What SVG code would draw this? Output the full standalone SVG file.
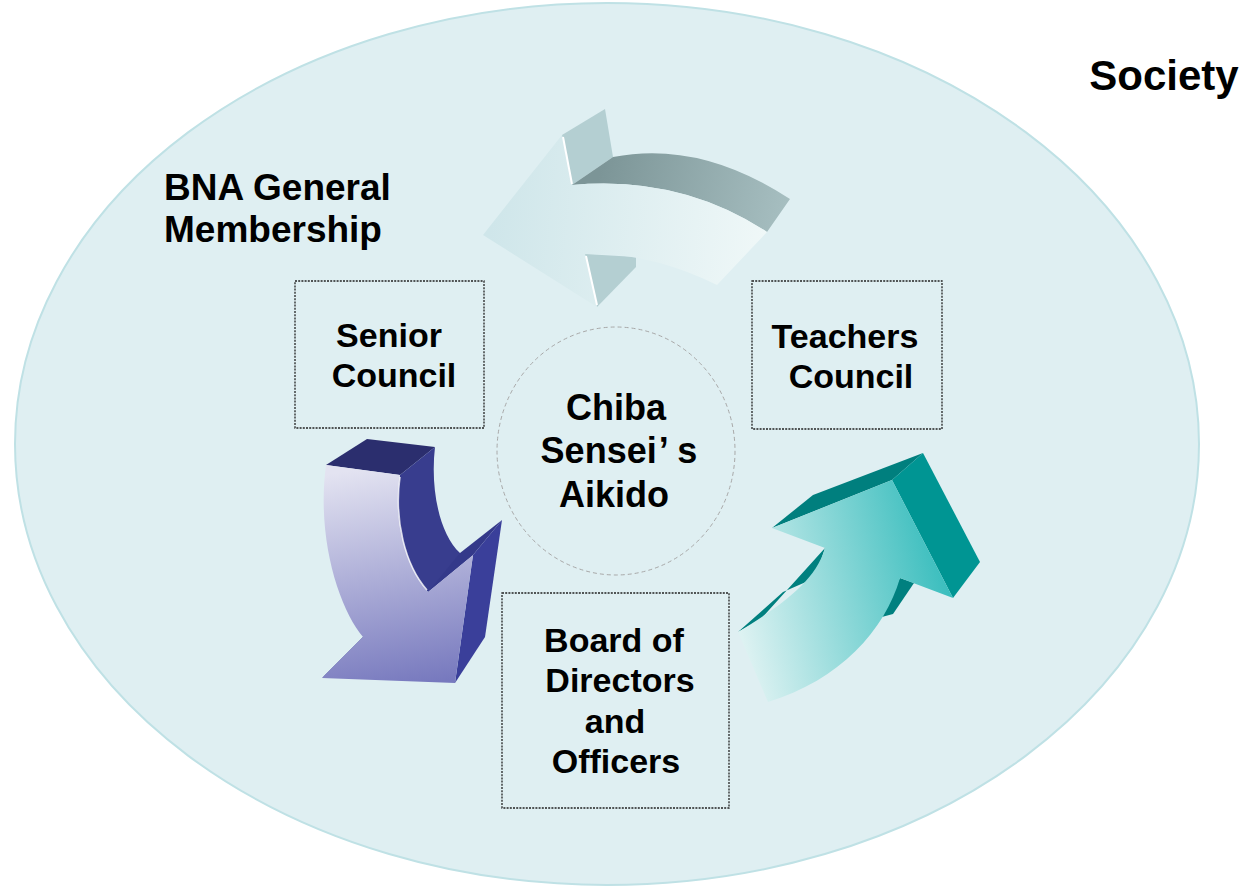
<svg xmlns="http://www.w3.org/2000/svg" width="1249" height="887" viewBox="0 0 1249 887">
  <defs>
    <style>
      .lbl { font-family: "Liberation Sans", Arial, sans-serif; font-weight: bold; fill: #000; text-anchor: middle; }
      .box { fill: none; stroke: #222; stroke-width: 1.3; stroke-dasharray: 2 1.2; }
    </style>
    <linearGradient id="gTop" gradientUnits="userSpaceOnUse" x1="490" y1="230" x2="770" y2="260">
      <stop offset="0" stop-color="#CFE6EA"/>
      <stop offset="1" stop-color="#F0F8F8"/>
    </linearGradient>
    <linearGradient id="gTopSide" gradientUnits="userSpaceOnUse" x1="600" y1="170" x2="790" y2="210">
      <stop offset="0" stop-color="#7C9597"/>
      <stop offset="1" stop-color="#A7BFC1"/>
    </linearGradient>
    <linearGradient id="gBlue" gradientUnits="userSpaceOnUse" x1="380" y1="465" x2="420" y2="685">
      <stop offset="0" stop-color="#E3E3F1"/>
      <stop offset="1" stop-color="#7779BE"/>
    </linearGradient>
    <linearGradient id="gTeal" gradientUnits="userSpaceOnUse" x1="745" y1="650" x2="955" y2="600">
      <stop offset="0" stop-color="#DDF2F2"/>
      <stop offset="1" stop-color="#38BDBD"/>
    </linearGradient>
  </defs>
  <rect width="1249" height="887" fill="#FFFFFF"/>

  <g id="society">
    <ellipse cx="607" cy="444" rx="592" ry="441" fill="#DFEFF2" stroke="#BFE1E5" stroke-width="2"/>
    <text class="lbl" x="1164" y="90" font-size="42">Society</text>
  </g>

  <g id="membership">
    <text class="lbl" x="164" y="200" font-size="37" style="text-anchor:start">BNA General</text>
    <text class="lbl" x="164" y="242" font-size="37" style="text-anchor:start">Membership</text>
  </g>

  <g id="connectors">
    <!-- top pale arrow (pointing left) -->
    <g id="arrow-top">
      <polygon points="562,135 605,109 613,157 572,185" fill="#B4CFD2"/>
      <polygon points="585,254 636,257 636,267 597,307" fill="#B4CFD2"/>
      <path d="M572,185 Q680,175 767,232 L790,199 Q700,140 613,157 Z" fill="url(#gTopSide)"/>
      <path d="M483,235 L562,135 L572,185 Q680,175 767,232 L717,285 Q650,252 585,254 L597,307 Z" fill="url(#gTop)"/>
      <line x1="563" y1="137" x2="572" y2="184" stroke="#FFFFFF" stroke-width="2"/>
      <line x1="586" y1="256" x2="597" y2="305" stroke="#FFFFFF" stroke-width="2"/>
    </g>
    <!-- left blue arrow (pointing down) -->
    <g id="arrow-left">
      <polygon points="326,465 367,439 435,447 400,475" fill="#2B2E6E"/>
      <path d="M400,475 L435,447 C430,490 440,535 460,553 L473,555 L428,592 C405,565 393,520 400,475 Z" fill="#383D8E"/>
      <polygon points="428,592 460,553 502,520 473,555" fill="#34398A"/>
      <polygon points="473,555 502,520 485,637 455,683" fill="#3A3F9A"/>
      <polygon points="363,637 368,644 322,678" fill="#3A3F9A"/>
      <path d="M326,465 L400,475 C393,520 405,565 428,592 L473,555 L455,683 L322,678 L363,637 C340,610 316,540 326,465 Z" fill="url(#gBlue)"/>
      <path d="M400,477 C394,520 405,565 427,590" fill="none" stroke="#FFFFFF" stroke-width="1.5" opacity="0.8"/>
    </g>
    <!-- right teal arrow (pointing up-right) -->
    <g id="arrow-right">
      <polygon points="738,632 783,592 815,578 825,548 760,620" fill="#00807F"/>
      <polygon points="900,578 914,583 893,614 878,618" fill="#00807F"/>
      <polygon points="772,528 813,495 923,453 892,480" fill="#007F7E"/>
      <polygon points="892,480 923,453 980,562 953,598" fill="#009593"/>
      <path d="M738,632 C770,612 815,585 825,548 L772,528 L892,480 L953,598 L900,578 C885,630 840,680 768,702 Z" fill="url(#gTeal)"/>
    </g>
  </g>

  <g id="senior-council">
    <rect class="box" x="295" y="281" width="189" height="147"/>
    <text class="lbl" x="389" y="347" font-size="34">Senior</text>
    <text class="lbl" x="394" y="387" font-size="34">Council</text>
  </g>

  <g id="teachers-council">
    <rect class="box" x="752" y="281" width="190" height="148"/>
    <text class="lbl" x="845" y="348" font-size="34">Teachers</text>
    <text class="lbl" x="851" y="388" font-size="34">Council</text>
  </g>

  <g id="board">
    <rect class="box" x="502" y="593" width="227" height="215"/>
    <text class="lbl" x="614" y="652" font-size="34">Board of</text>
    <text class="lbl" x="620" y="692" font-size="34">Directors</text>
    <text class="lbl" x="615" y="733" font-size="34">and</text>
    <text class="lbl" x="616" y="773" font-size="34">Officers</text>
  </g>

  <g id="chiba">
    <ellipse cx="616" cy="451" rx="119" ry="124" fill="none" stroke="#A8A8A8" stroke-width="1" stroke-dasharray="4 3"/>
    <text class="lbl" x="616" y="420" font-size="36">Chiba</text>
    <text class="lbl" x="619" y="463" font-size="36">Sensei<tspan dx="2">’</tspan><tspan dx="10">s</tspan></text>
    <text class="lbl" x="614" y="507" font-size="36">Aikido</text>
  </g>
</svg>
